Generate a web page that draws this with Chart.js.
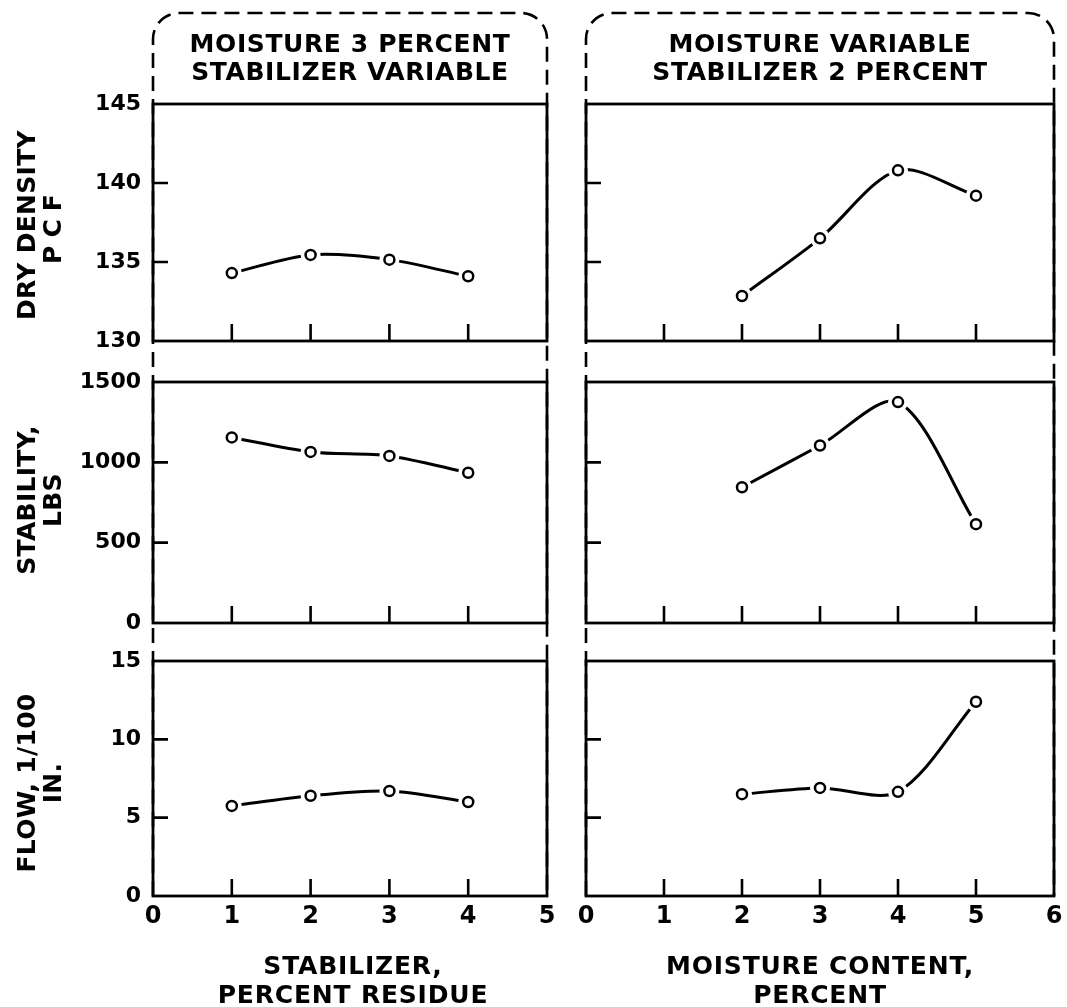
<!DOCTYPE html>
<html>
<head>
<meta charset="utf-8">
<script src="https://cdn.jsdelivr.net/npm/chart.js@4/dist/chart.umd.min.js"></script>
<style>
body { margin: 0; background: #fff; width: 1067px; height: 1007px; position: relative; overflow: hidden;
       font-family: 'DejaVu Sans', sans-serif; color: #000; }
canvas { position: absolute; }
.t { position: absolute; transform: translate(-50%, -50%); white-space: nowrap; text-align: center;
     font-size: 25px; font-weight: bold; line-height: 28px; letter-spacing: 0.6px; }
.v { position: absolute; transform: translate(-50%, -50%) rotate(-90deg); white-space: nowrap; text-align: center;
     font-size: 25px; font-weight: bold; line-height: 26px; letter-spacing: 0.3px; }
</style>
</head>
<body>
<canvas id="frames" width="1067" height="1007" style="left:0;top:0"></canvas>

<div class="t" style="left:350px;top:58px">MOISTURE 3 PERCENT<br>STABILIZER VARIABLE</div>
<div class="t" style="left:820px;top:58px">MOISTURE VARIABLE<br>STABILIZER 2 PERCENT</div>

<div class="v" style="left:40px;top:225px">DRY DENSITY<br><span style="letter-spacing:8px">PCF</span></div>
<div class="v" style="left:40px;top:500px">STABILITY,<br>LBS</div>
<div class="v" style="left:40px;top:783px">FLOW, 1/100<br>IN.</div>

<div class="t" style="left:353px;top:980px;line-height:29px;letter-spacing:0.8px">STABILIZER,<br>PERCENT RESIDUE</div>
<div class="t" style="left:820px;top:980px;line-height:29px;letter-spacing:0.8px">MOISTURE CONTENT,<br>PERCENT</div>

<script>
// data
const stabilizer = [1, 2, 3, 4];
const moisture = [2, 3, 4, 5];

const densityA = [134.3, 135.45, 135.15, 134.1];
const densityB = [132.85, 136.5, 140.8, 139.2];
const stabilityA = [1155, 1065, 1040, 935];
const stabilityB = [845, 1105, 1375, 615];
const flowA = [5.75, 6.4, 6.7, 6.0];
const flowB = [6.5, 6.9, 6.65, 12.4];

// tick labels
const stabilizerTicks = [0, 1, 2, 3, 4, 5];
const moistureTicks = [0, 1, 2, 3, 4, 5, 6];
const densityTicks = [130, 135, 140, 145];
const stabilityTicks = [0, 500, 1000, 1500];
const flowTicks = [0, 5, 10, 15];

// panel boxes (page pixels)
const cols = [{ left: 153, right: 547 }, { left: 586, right: 1054 }];
const rows = [{ top: 104, bottom: 341 }, { top: 382, bottom: 623 }, { top: 661, bottom: 896 }];

Chart.defaults.font.family = "'DejaVu Sans', sans-serif";
Chart.defaults.font.weight = 'bold';
Chart.defaults.color = '#000';

// dashed rounded frames behind the two columns
const fctx = document.getElementById('frames').getContext('2d');
fctx.strokeStyle = '#000';
fctx.lineWidth = 2.6;
fctx.setLineDash([15, 8]);
cols.forEach(c => {
    const top = 13, r = 26, bottom = 896;
    fctx.beginPath();
    fctx.moveTo(c.left, bottom);
    fctx.lineTo(c.left, top + r);
    fctx.arcTo(c.left, top, c.left + r, top, r);
    fctx.lineTo(c.right - r, top);
    fctx.arcTo(c.right, top, c.right, top + r, r);
    fctx.lineTo(c.right, bottom);
    fctx.stroke();
});

// box around plot area + inner tick marks
const panelPlugin = {
    id: 'panelBox',
    afterDraw(chart) {
        const { ctx, chartArea: a, scales: { x, y } } = chart;
        ctx.save();
        ctx.strokeStyle = '#000';
        ctx.lineWidth = 2.8;
        ctx.strokeRect(a.left, a.top, a.right - a.left, a.bottom - a.top);
        ctx.lineWidth = 2.6;
        ctx.beginPath();
        x.ticks.slice(1, -1).forEach(t => {
            const px = x.getPixelForValue(t.value);
            ctx.moveTo(px, a.bottom);
            ctx.lineTo(px, a.bottom - 17);
        });
        y.ticks.slice(1, -1).forEach(t => {
            const py = y.getPixelForValue(t.value);
            ctx.moveTo(a.left, py);
            ctx.lineTo(a.left + 15, py);
        });
        ctx.stroke();
        ctx.restore();
    }
};

function panelConfig(ci, ri, pts, xTicks, yTicks) {
    const yW = ci === 0 ? 80 : 30;
    const xH = ri === 2 ? 44 : 0;
    return {
        type: 'scatter',
        data: {
            datasets: [
                { data: pts, showLine: false, pointRadius: 5, pointBorderWidth: 2.5,
                  pointBorderColor: '#000', pointBackgroundColor: '#fff', order: 0 },
                // white halo so the curve stops short of each circle
                { data: pts, showLine: false, pointRadius: 10, pointBorderWidth: 0,
                  pointBorderColor: '#fff', pointBackgroundColor: '#fff', order: 1 },
                { data: pts, showLine: true, tension: 0.3, borderColor: '#000', borderWidth: 3,
                  pointRadius: 0, order: 2 }
            ]
        },
        options: {
            responsive: false,
            maintainAspectRatio: false,
            animation: false,
            devicePixelRatio: 1,
            events: [],
            layout: { padding: { top: 40, right: 30, bottom: 40, left: 0 } },
            plugins: { legend: { display: false }, tooltip: { enabled: false } },
            scales: {
                x: {
                    type: 'linear',
                    min: xTicks[0],
                    max: xTicks[xTicks.length - 1],
                    afterBuildTicks: s => { s.ticks = xTicks.map(v => ({ value: v })); },
                    afterFit: s => { s.height = xH; },
                    grid: { display: false, drawTicks: false },
                    border: { display: false },
                    ticks: { display: ri === 2, padding: 6, autoSkip: false, maxRotation: 0,
                             font: { size: 24 }, color: '#000', callback: v => String(v) }
                },
                y: {
                    type: 'linear',
                    min: yTicks[0],
                    max: yTicks[yTicks.length - 1],
                    afterBuildTicks: s => { s.ticks = yTicks.map(v => ({ value: v })); },
                    afterFit: s => { s.width = yW; },
                    grid: { display: false, drawTicks: false },
                    border: { display: false },
                    ticks: { display: ci === 0, padding: 12, font: { size: 22 }, color: '#000',
                             callback: v => String(v) }
                }
            }
        },
        plugins: [panelPlugin]
    };
}

function makePanel(ci, ri, xVals, yVals, xTicks, yTicks) {
    const c = cols[ci], r = rows[ri];
    const pw = c.right - c.left, ph = r.bottom - r.top;
    const pts = xVals.map((x, i) => ({ x: x, y: yVals[i] }));

    const cv = document.createElement('canvas');
    document.body.appendChild(cv);
    const setSize = (w, h) => {
        cv.width = w; cv.height = h;
        cv.style.width = w + 'px'; cv.style.height = h + 'px';
    };

    // first pass: measure how much room the axes take
    let w = pw + 200, h = ph + 200;
    setSize(w, h);
    let chart = new Chart(cv, panelConfig(ci, ri, pts, xTicks, yTicks));
    const a = chart.chartArea;
    const offL = a.left, offT = a.top, offR = w - a.right, offB = h - a.bottom;
    chart.destroy();

    // second pass: exact size so the plot area matches the panel box
    setSize(offL + pw + offR, offT + ph + offB);
    chart = new Chart(cv, panelConfig(ci, ri, pts, xTicks, yTicks));
    cv.style.left = (c.left - chart.chartArea.left) + 'px';
    cv.style.top = (r.top - chart.chartArea.top) + 'px';
}

makePanel(0, 0, stabilizer, densityA, stabilizerTicks, densityTicks);
makePanel(1, 0, moisture, densityB, moistureTicks, densityTicks);
makePanel(0, 1, stabilizer, stabilityA, stabilizerTicks, stabilityTicks);
makePanel(1, 1, moisture, stabilityB, moistureTicks, stabilityTicks);
makePanel(0, 2, stabilizer, flowA, stabilizerTicks, flowTicks);
makePanel(1, 2, moisture, flowB, moistureTicks, flowTicks);
</script>
</body>
</html>
